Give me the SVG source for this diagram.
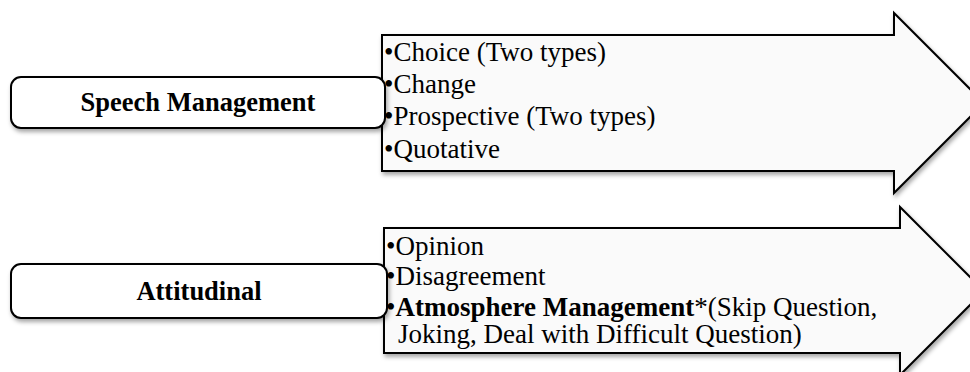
<svg xmlns="http://www.w3.org/2000/svg" width="970" height="372" viewBox="0 0 970 372">
<style>
.arrow{fill:#fafafa;stroke:#000;stroke-width:2;stroke-linejoin:miter}
.box{fill:#fff;stroke:#000;stroke-width:2}
.t{font-family:"Liberation Serif","Times New Roman",serif;font-size:26.5px;fill:#000}
.i{font-size:27px}
.b{font-weight:bold}
</style>
<defs>
<filter id="sh" x="-10%" y="-10%" width="125%" height="140%">
<feDropShadow dx="1.5" dy="3" stdDeviation="2" flood-color="#000" flood-opacity="0.35"/>
</filter>
</defs>
<g id="connectors">
<path class="arrow" filter="url(#sh)" d="M382,35 H894 V13 L984,103 L894,193 V171 H382 Z"/>
<path class="arrow" filter="url(#sh)" d="M384,228 H900 V207 L984,291 L900,375 V353 H384 Z"/>
</g>
<g id="speech-management">
<rect class="box" filter="url(#sh)" x="11" y="77" width="374" height="51" rx="10"/>
<text class="t b" x="198" y="111" text-anchor="middle">Speech Management</text>
</g>
<g id="speech-items">
<text class="t i" x="384" y="61">•Choice (Two types)</text>
<text class="t i" x="384" y="93">•Change</text>
<text class="t i" x="384" y="125">•Prospective (Two types)</text>
<text class="t i" x="384" y="158">•Quotative</text>
</g>
<g id="attitudinal">
<rect class="box" filter="url(#sh)" x="11" y="264" width="376" height="54" rx="10"/>
<text class="t b" x="199" y="300" text-anchor="middle">Attitudinal</text>
</g>
<g id="attitudinal-items">
<text class="t i" x="386" y="255">•Opinion</text>
<text class="t i" x="386" y="285">•Disagreement</text>
<text class="t i" x="386" y="316">•<tspan class="b">Atmosphere Management</tspan>*(Skip Question,</text>
<text class="t i" x="398" y="343">Joking, Deal with Difficult Question)</text>
</g>
</svg>
